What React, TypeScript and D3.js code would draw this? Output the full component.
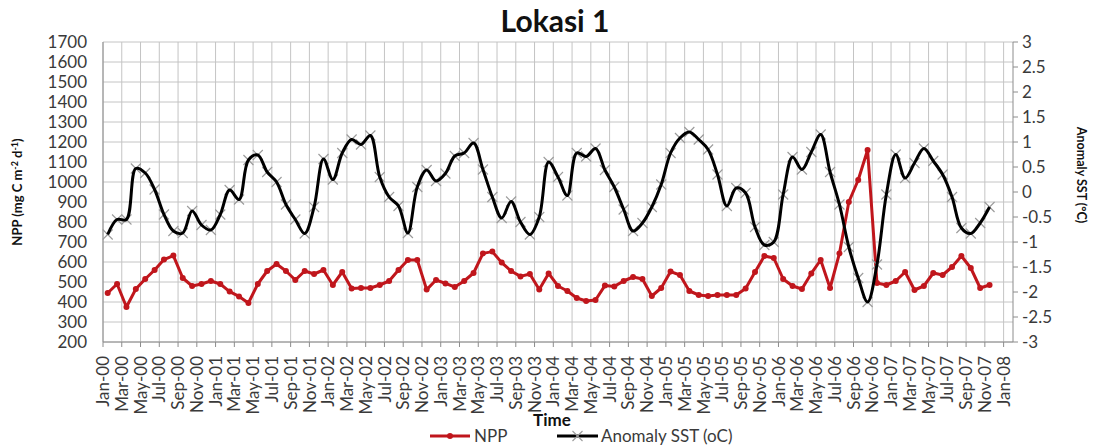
import React from "react";
import * as d3 from "d3";

const chartTitle = "Lokasi 1";

const xTickLabels = [
  "Jan-00", "Mar-00", "May-00", "Jul-00", "Sep-00", "Nov-00",
  "Jan-01", "Mar-01", "May-01", "Jul-01", "Sep-01", "Nov-01",
  "Jan-02", "Mar-02", "May-02", "Jul-02", "Sep-02", "Nov-02",
  "Jan-03", "Mar-03", "May-03", "Jul-03", "Sep-03", "Nov-03",
  "Jan-04", "Mar-04", "May-04", "Jul-04", "Sep-04", "Nov-04",
  "Jan-05", "Mar-05", "May-05", "Jul-05", "Sep-05", "Nov-05",
  "Jan-06", "Mar-06", "May-06", "Jul-06", "Sep-06", "Nov-06",
  "Jan-07", "Mar-07", "May-07", "Jul-07", "Sep-07", "Nov-07",
  "Jan-08",
];

// monthly NPP (mg C m-2 d-1), Jan-00 ... Nov-07
const npp = [
  445, 490, 375, 465, 515, 560, 612, 632, 520, 480,
  490, 505, 490, 452, 428, 395, 490, 555, 590, 555,
  510, 555, 540, 560, 485, 550, 468, 470, 470, 485,
  505, 560, 610, 610, 462, 510, 493, 475, 505, 545,
  643, 652, 597, 555, 528, 540, 462, 543, 480, 455,
  420, 405, 410, 482, 478, 505, 525, 515, 430, 470,
  552, 535, 455, 435, 430, 435, 435, 435, 468, 550,
  630, 620, 515, 480, 465, 543, 610, 470, 643, 900,
  1010, 1160, 495, 485, 505, 550, 460, 480, 545, 535,
  575, 630, 570, 470, 485,
];

// monthly SST anomaly (oC), Jan-00 ... Nov-07
const sst = [
  -0.85, -0.55, -0.55, 0.47, 0.38, 0.05, -0.45, -0.78, -0.82, -0.38,
  -0.66, -0.76, -0.45, 0.04, -0.15, 0.64, 0.74, 0.4, 0.2, -0.25,
  -0.55, -0.83, -0.3, 0.66, 0.25, 0.78, 1.05, 0.95, 1.13, 0.3,
  -0.1, -0.28, -0.82, 0.1, 0.44, 0.22, 0.37, 0.72, 0.78, 0.98,
  0.45, -0.1, -0.52, -0.19, -0.6, -0.85, -0.5, 0.6, 0.3, -0.07,
  0.78, 0.71, 0.87, 0.44, 0.1, -0.35, -0.78, -0.62, -0.3, 0.15,
  0.78, 1.08, 1.2, 1.05, 0.85, 0.35, -0.28, 0.08, -0.02, -0.7,
  -1.06, -1.0, -0.05, 0.7, 0.45, 0.8, 1.15, 0.4, -0.25, -1.1,
  -1.72, -2.2, -1.45, -0.05, 0.75, 0.28, 0.58, 0.87, 0.62, 0.35,
  -0.1, -0.72, -0.83, -0.62, -0.3,
];

const leftTicks = [200, 300, 400, 500, 600, 700, 800, 900, 1000, 1100, 1200, 1300, 1400, 1500, 1600, 1700];
const rightTicks = [-3, -2.5, -2, -1.5, -1, -0.5, 0, 0.5, 1, 1.5, 2, 2.5, 3];

const FONT = "Lato, 'Open Sans', 'DejaVu Sans', sans-serif";
const RED = "#c0161c";

export default function App() {
  const W = 1100;
  const H = 447;
  const L = 103, R = 1013, T = 42, B = 342;

  const x = d3.scaleLinear().domain([0, 97]).range([L, R]);
  const yL = d3.scaleLinear().domain([200, 1700]).range([B, T]);
  const yR = d3.scaleLinear().domain([-3, 3]).range([B, T]);

  const px = (i: number) => x(i + 0.5);

  const nppPath = d3.line<number>().x((_, i) => px(i)).y((d) => yL(d))(npp) || "";
  const sstPath =
    d3.line<number>().x((_, i) => px(i)).y((d) => yR(d)).curve(d3.curveCatmullRom.alpha(0.5))(sst) || "";

  const xMarker = (cx: number, cy: number, s: number, key: string | number) => (
    <g key={key}>
      <line x1={cx - s} y1={cy - s} x2={cx + s} y2={cy + s} stroke="#9a9a9a" strokeWidth={1.1} />
      <line x1={cx - s} y1={cy + s} x2={cx + s} y2={cy - s} stroke="#9a9a9a" strokeWidth={1.1} />
    </g>
  );

  return (
    <svg
      width={W}
      height={H}
      style={{ position: "absolute", left: 0, top: 0, background: "#fff" }}
      fontFamily={FONT}
    >
      <rect x={0} y={0} width={W} height={H} fill="#fff" />
      {/* title */}
      <text x={555} y={32} textAnchor="middle" fontSize={30} fontWeight="bold" fill="#111">
        {chartTitle}
      </text>

      {/* horizontal gridlines */}
      {leftTicks.map((v) => (
        <line key={"h" + v} x1={L} x2={R} y1={yL(v)} y2={yL(v)} stroke="#c4c4c4" strokeWidth={1} />
      ))}
      {/* vertical gridlines + bottom ticks */}
      {xTickLabels.map((_, t) => (
        <g key={"v" + t}>
          <line x1={x(2 * t)} x2={x(2 * t)} y1={T} y2={B} stroke="#c4c4c4" strokeWidth={1} />
          <line x1={x(2 * t)} x2={x(2 * t)} y1={B} y2={B + 5} stroke="#8c8c8c" strokeWidth={1} />
        </g>
      ))}
      {/* axes lines */}
      <line x1={L} x2={R} y1={B} y2={B} stroke="#8c8c8c" strokeWidth={1} />
      <line x1={L} x2={L} y1={T} y2={B} stroke="#8c8c8c" strokeWidth={1} />
      <line x1={R} x2={R} y1={T} y2={B} stroke="#8c8c8c" strokeWidth={1} />
      {rightTicks.map((v) => (
        <line key={"rt" + v} x1={R} x2={R + 5} y1={yR(v)} y2={yR(v)} stroke="#8c8c8c" strokeWidth={1} />
      ))}

      {/* left tick labels */}
      {leftTicks.map((v) => (
        <text key={"lt" + v} x={87} y={yL(v)} dy="0.35em" textAnchor="end" fontSize={17} fill="#3a3a3a">
          {String(v)}
        </text>
      ))}
      {/* right tick labels */}
      {rightTicks.map((v) => (
        <text key={"rl" + v} x={1022} y={yR(v)} dy="0.35em" textAnchor="start" fontSize={17} fill="#3a3a3a">
          {String(v)}
        </text>
      ))}
      {/* x tick labels */}
      {xTickLabels.map((lab, t) => (
        <text
          key={"xl" + t}
          transform={`translate(${x(2 * t)},356) rotate(-90)`}
          dy="0.36em"
          textAnchor="end"
          fontSize={17}
          fill="#3a3a3a"
        >
          {lab}
        </text>
      ))}

      {/* axis titles */}
      <text transform="translate(22,192) rotate(-90)" textAnchor="middle" fontSize={13} fontWeight="bold" fill="#111">
        NPP (mg C m
        <tspan fontSize={9} dy={-4}>-2</tspan>
        <tspan dy={4}> d</tspan>
        <tspan fontSize={9} dy={-4}>-1</tspan>
        <tspan dy={4}>)</tspan>
      </text>
      <text transform="translate(1077,175) rotate(90)" textAnchor="middle" fontSize={12.5} fontWeight="bold" fill="#111">
        Anomaly SST (°C)
      </text>
      <text x={552} y={426} textAnchor="middle" fontSize={17} fontWeight="bold" fill="#111">
        Time
      </text>

      {/* NPP series */}
      <path d={nppPath} fill="none" stroke={RED} strokeWidth={3} strokeLinejoin="round" />
      {npp.map((d, i) => (
        <circle key={"c" + i} cx={px(i)} cy={yL(d)} r={3} fill={RED} />
      ))}

      {/* SST series */}
      {sst.map((d, i) => xMarker(px(i), yR(d), 5, "x" + i))}
      <path d={sstPath} fill="none" stroke="#000" strokeWidth={3} strokeLinejoin="round" />

      {/* legend */}
      <line x1={430} x2={470} y1={436} y2={436} stroke={RED} strokeWidth={3} />
      <circle cx={450} cy={436} r={3} fill={RED} />
      <text x={474} y={442} fontSize={17} fill="#3a3a3a">NPP</text>
      <line x1={557} x2={598} y1={436} y2={436} stroke="#000" strokeWidth={3} />
      {xMarker(577.5, 436, 5, "legx")}
      <text x={601} y={442} fontSize={17} fill="#3a3a3a">Anomaly SST (oC)</text>
    </svg>
  );
}
